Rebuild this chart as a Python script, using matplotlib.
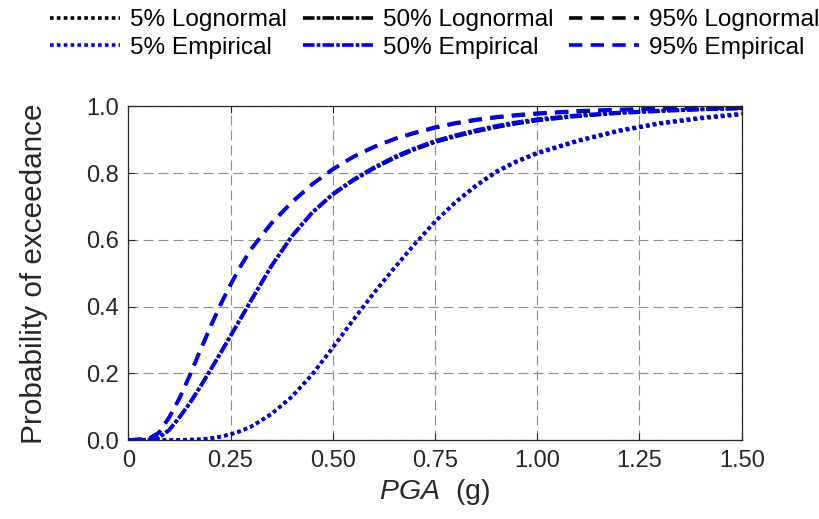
import numpy as np
import matplotlib
matplotlib.use("Agg")
from matplotlib import pyplot as plt

plt.rcParams['font.family'] = ['Liberation Sans', 'DejaVu Sans']
plt.rcParams['mathtext.fontset'] = 'custom'
plt.rcParams['mathtext.it'] = 'Liberation Sans:italic'
plt.rcParams['mathtext.rm'] = 'Liberation Sans'

## values
pga = [0.0, 0.05, 0.075, 0.1, 0.125, 0.15, 0.175, 0.2, 0.225, 0.25, 0.275, 0.3,
       0.35, 0.4, 0.45, 0.5, 0.55, 0.6, 0.65, 0.7, 0.75, 0.8, 0.85, 0.9, 0.95, 1.0,
       1.1, 1.2, 1.3, 1.4, 1.5]

p05_emp = [0.0, 0.0, 0.0, 0.0, 0.0005, 0.001, 0.002, 0.005, 0.01, 0.017, 0.027, 0.04,
           0.078, 0.13, 0.197, 0.277, 0.36, 0.44, 0.515, 0.587, 0.655, 0.714, 0.764, 0.806, 0.837, 0.862,
           0.899, 0.929, 0.951, 0.967, 0.979]
p50_emp = [0.0, 0.001, 0.008, 0.03, 0.068, 0.11, 0.158, 0.208, 0.26, 0.312, 0.365, 0.418,
           0.522, 0.611, 0.683, 0.738, 0.781, 0.817, 0.849, 0.875, 0.897, 0.914, 0.929, 0.942, 0.953, 0.962,
           0.974, 0.982, 0.988, 0.992, 0.995]
p95_emp = [0.0, 0.004, 0.022, 0.068, 0.125, 0.193, 0.266, 0.337, 0.405, 0.466, 0.522, 0.572,
           0.65, 0.713, 0.767, 0.812, 0.849, 0.879, 0.903, 0.922, 0.938, 0.951, 0.961, 0.969, 0.975, 0.98,
           0.987, 0.991, 0.994, 0.996, 0.997]

p05_logn = [0.0, 0.0, 0.0, 0.0, 0.0005, 0.001, 0.002, 0.005, 0.01, 0.017, 0.027, 0.04,
            0.078, 0.13, 0.197, 0.277, 0.36, 0.44, 0.515, 0.587, 0.655, 0.712, 0.761, 0.803, 0.834, 0.859,
            0.896, 0.926, 0.948, 0.964, 0.976]
p50_logn = [0.0, 0.001, 0.008, 0.03, 0.068, 0.11, 0.158, 0.208, 0.26, 0.312, 0.365, 0.418,
            0.522, 0.611, 0.682, 0.736, 0.778, 0.814, 0.845, 0.871, 0.893, 0.91, 0.925, 0.938, 0.949, 0.958,
            0.971, 0.98, 0.986, 0.991, 0.994]
p95_logn = [0.0, 0.004, 0.022, 0.068, 0.125, 0.193, 0.266, 0.337, 0.405, 0.466, 0.522, 0.572,
            0.65, 0.713, 0.767, 0.812, 0.849, 0.878, 0.902, 0.92, 0.936, 0.949, 0.959, 0.967, 0.973, 0.978,
            0.985, 0.99, 0.993, 0.995, 0.996]

xticks = [0, 0.25, 0.5, 0.75, 1.0, 1.25, 1.5]
xticklabels = ['0', '0.25', '0.50', '0.75', '1.00', '1.25', '1.50']
yticks = [0, 0.2, 0.4, 0.6, 0.8, 1.0]
yticklabels = ['0.0', '0.2', '0.4', '0.6', '0.8', '1.0']

fig = plt.figure(figsize=(8.2, 5.19), dpi=100)
ax = fig.add_axes([0.1565, 0.1522, 0.748, 0.6426])

lw = 2.6
blue = (0, 0, 1)
dotted = (0, (1, 0.9))
dashdot = (0, (3.2, 0.6, 1.0, 0.6))
dashed = (0, (3.7, 2.3))
h1, = ax.plot(pga, p05_logn, color='k', ls=dotted, lw=lw, label='5% Lognormal')
h3, = ax.plot(pga, p50_logn, color='k', ls=dashdot, lw=lw, label='50% Lognormal')
h5, = ax.plot(pga, p95_logn, color='k', ls=dashed, lw=lw, label='95% Lognormal')
h2, = ax.plot(pga, p05_emp, color=blue, ls=dotted, lw=lw, label='5% Empirical')
h4, = ax.plot(pga, p50_emp, color=blue, ls=dashdot, lw=lw, label='50% Empirical')
h6, = ax.plot(pga, p95_emp, color=blue, ls=dashed, lw=lw, label='95% Empirical')

ax.set_xlim(0, 1.5)
ax.set_ylim(0, 1.0)
ax.set_xticks(xticks)
ax.set_xticklabels(xticklabels)
ax.set_yticks(yticks)
ax.set_yticklabels(yticklabels)
ax.grid(True, color='#8c8c8c', ls=(0, (9, 4.5)), lw=0.8)
ax.tick_params(direction='in', length=5, top=True, right=True, labelsize=17,
               colors='#262626', pad=7)
for s in ax.spines.values():
    s.set_color('#262626')
    s.set_linewidth(0.9)

ax.set_xlabel(r'$\it{PGA}$  (g)', fontsize=20.5, color='#262626', labelpad=4)
ax.set_ylabel('Probability of exceedance', fontsize=21.4, color='#262626', labelpad=27)

fig.legend(handles=[h1, h2, h3, h4, h5, h6], ncol=3, loc='upper center',
           bbox_to_anchor=(0.5305, 0.992), frameon=False, fontsize=17.6,
           handlelength=2.86, handletextpad=0.41, columnspacing=0.65,
           labelspacing=0.23, borderpad=0.2, borderaxespad=0)

fig.savefig('out.png', dpi=100)
